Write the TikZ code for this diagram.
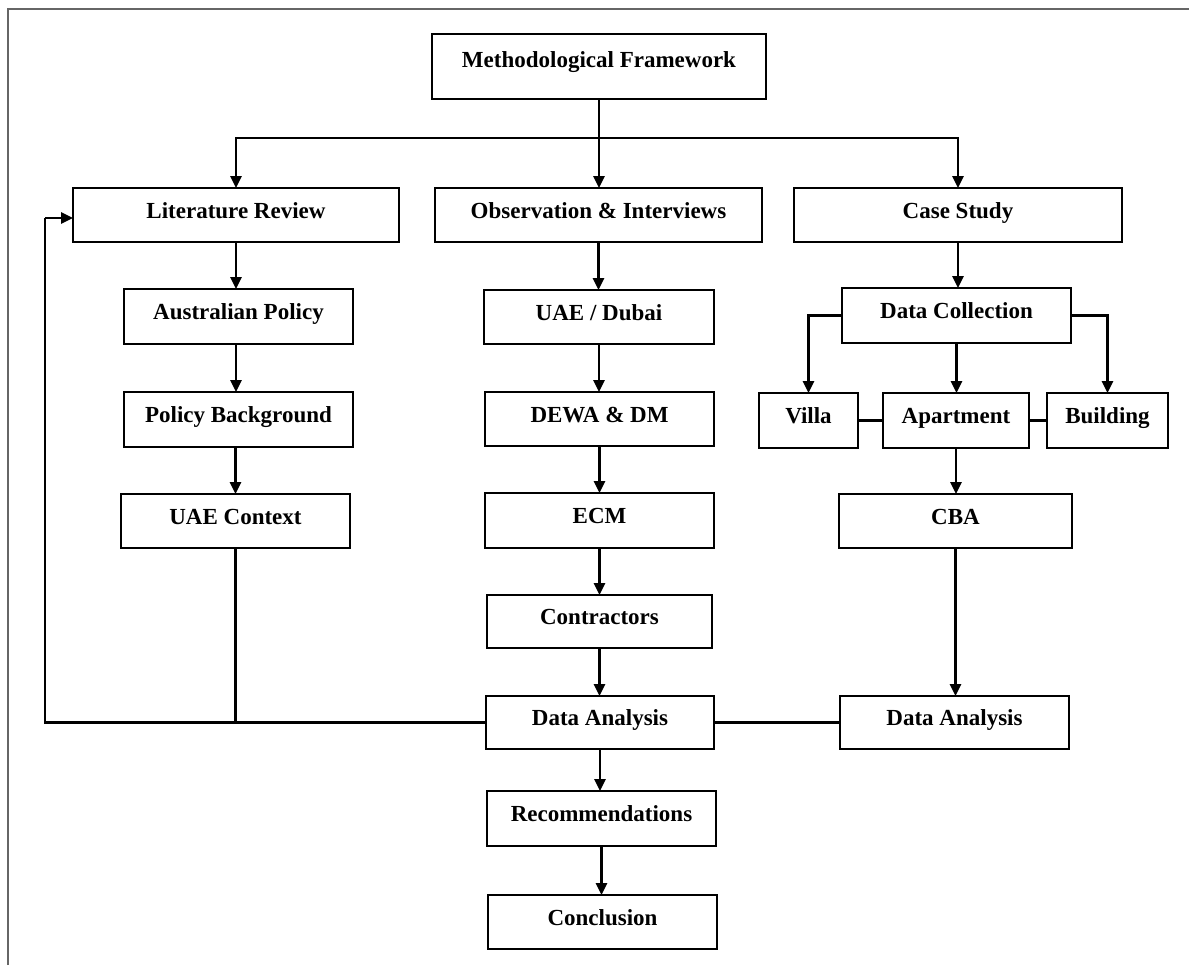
\documentclass[tikz,border=0pt]{standalone}
\usepackage{fontspec}
\setmainfont{Liberation Serif}
\usetikzlibrary{arrows.meta}
\begin{document}
\begin{tikzpicture}[x=0.5pt,y=-0.5pt,
  box/.style={draw, line width=1.2pt, inner sep=0pt, outer sep=0pt,
    font=\fontsize{11.5}{13}\selectfont\bfseries, text height=0.7em, text depth=0.36em},
  arr/.style={line width=1.1pt, -{Triangle[length=6pt,width=5.6pt]}},
  ln/.style={line width=1.1pt},
  frame/.style={line width=0.9pt, draw=black!60}]
\useasboundingbox (0,0) rectangle (1189,965);
% partial frame
\coordinate (f1) at (8,965);
\coordinate (f2) at (8,9);
\coordinate (f3) at (1189,9);
\draw[frame] (f1) -- (f2) -- (f3);
% top
\node[box, minimum width=167pt, minimum height=32.5pt, text depth=0.6em] (MF) at (599,66.5) {Methodological Framework};
\node[box, minimum width=163pt, minimum height=27pt] (LR) at (236,215) {Literature Review};
\node[box, minimum width=163.5pt, minimum height=27pt] (OI) at (598.5,215) {Observation \& Interviews};
\node[box, minimum width=164pt, minimum height=27pt] (CS) at (958,215) {Case Study};
% left column
\node[box, minimum width=114.5pt, minimum height=27.5pt] (AP) at (238.5,316.5) {Australian Policy};
\node[box, minimum width=114.5pt, minimum height=27.5pt] (PB) at (238.5,419.5) {Policy Background};
\node[box, minimum width=114.5pt, minimum height=27pt] (UC) at (235.5,521) {UAE Context};
% middle column
\node[box, minimum width=115pt, minimum height=27pt] (UD) at (599,317) {UAE / Dubai};
\node[box, minimum width=114.5pt, minimum height=27pt] (DD) at (599.5,419) {DEWA \& DM};
\node[box, minimum width=114.5pt, minimum height=27.5pt] (ECM) at (599.5,520.5) {ECM};
\node[box, minimum width=112.5pt, minimum height=26.5pt] (CO) at (599.5,621.5) {Contractors};
\node[box, minimum width=114pt, minimum height=26.5pt] (DA1) at (600,722.5) {Data Analysis};
\node[box, minimum width=114.5pt, minimum height=27.5pt] (REC) at (601.5,818.5) {Recommendations};
\node[box, minimum width=114.5pt, minimum height=27pt] (CON) at (602.5,922) {Conclusion};
% right column
\node[box, minimum width=114.5pt, minimum height=27.5pt] (DC) at (956.5,315.5) {Data Collection};
\node[box, minimum width=49.5pt, minimum height=27.5pt] (VI) at (808.5,420.5) {Villa};
\node[box, minimum width=73pt, minimum height=27.5pt] (APT) at (956,420.5) {Apartment};
\node[box, minimum width=60.5pt, minimum height=27.5pt] (BLD) at (1107.5,420.5) {Building};
\node[box, minimum width=116.5pt, minimum height=27pt] (CBA) at (955.5,521) {CBA};
\node[box, minimum width=114.5pt, minimum height=26.5pt] (DA2) at (954.5,722.5) {Data Analysis};
% top connectors
\coordinate (bus) at (599,138);
\draw[arr] (MF.south) -- (MF.south |- OI.north);
\draw[arr] (bus) -| (LR.north);
\draw[arr] (bus) -| (CS.north);
% left column
\draw[arr] (LR.south) -- (LR.south |- AP.north);
\draw[arr] (AP.south -| LR.south) -- (LR.south |- PB.north);
\draw[arr] (PB.south -| UC.south) -- (UC.north);
% feedback loop
\coordinate (fb) at (45,722.5);
\coordinate (fbt) at (45,218);
\draw[ln] (UC.south) -- (UC.south |- DA1.west);
\draw[ln] (DA1.west) -- (fb) -- (fbt);
\draw[arr] (fbt) -- (fbt -| LR.west);
% middle column
\draw[arr] (OI.south) -- (OI.south |- UD.north);
\draw[arr] (UD.south) -- (UD.south |- DD.north);
\draw[arr] (DD.south) -- (DD.south |- ECM.north);
\draw[arr] (ECM.south) -- (ECM.south |- CO.north);
\draw[arr] (CO.south) -- (CO.south |- DA1.north);
\draw[arr] (DA1.south) -- (DA1.south |- REC.north);
\draw[arr] (REC.south) -- (REC.south |- CON.north);
% right column
\draw[arr] (CS.south) -- (CS.south |- DC.north);
\draw[arr] (DC.west) -| (VI.north);
\draw[arr] (DC.east) -| (BLD.north);
\draw[arr] (DC.south) -- (DC.south |- APT.north);
\draw[ln] (VI.east) -- (APT.west);
\draw[ln] (APT.east) -- (BLD.west);
\draw[arr] (APT.south) -- (APT.south |- CBA.north);
\draw[arr] (CBA.south) -- (CBA.south |- DA2.north);
\draw[ln] (DA1.east) -- (DA2.west);
\end{tikzpicture}
\end{document}
